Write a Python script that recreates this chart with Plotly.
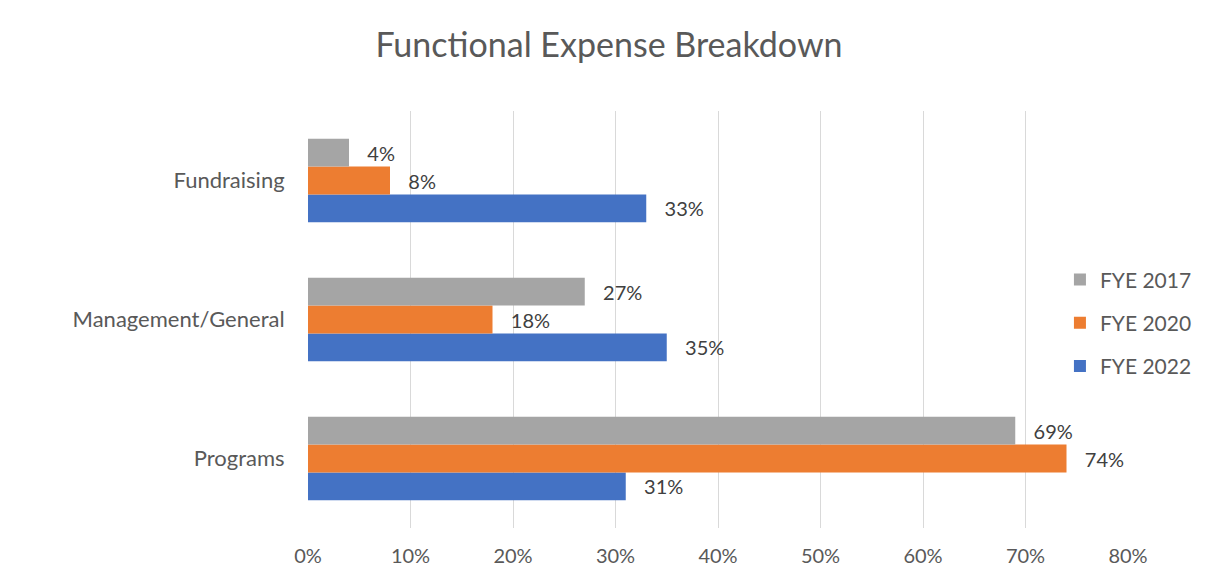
import plotly.graph_objects as go

categories = ["Programs", "Management/General", "Fundraising"]
fye_2022 = [0.31, 0.35, 0.33]
fye_2020 = [0.74, 0.18, 0.08]
fye_2017 = [0.69, 0.27, 0.04]
series_names = ["FYE 2022", "FYE 2020", "FYE 2017"]
series_colors = ["#4472C4", "#ED7D31", "#A5A5A5"]
legend_ranks = [3, 2, 1]
x_ticks = [0, 0.1, 0.2, 0.3, 0.4, 0.5, 0.6, 0.7, 0.8]

FONT = "Lato, 'Open Sans', sans-serif"

fig = go.Figure()
for name, vals, col, rk in zip(series_names, [fye_2022, fye_2020, fye_2017],
                               series_colors, legend_ranks):
    fig.add_trace(go.Bar(
        y=categories, x=vals, name=name, orientation="h", legendgroup=name,
        legendrank=rk,
        marker=dict(color=col, line=dict(width=0)),
        texttemplate="\u00a0\u00a0\u00a0%{x:.0%}", textposition="outside",
        textfont=dict(size=20, color="#404040", family=FONT),
        cliponaxis=False,
    ))

fig.update_layout(
    width=1202, height=567,
    paper_bgcolor="white", plot_bgcolor="white",
    barmode="group", bargap=0.4, bargroupgap=0,
    margin=dict(l=300, r=82, t=103, b=47),
    title=dict(text="Functional Expense Breakdown", x=0.5, xanchor="center",
               y=0.935, yanchor="middle",
               font=dict(size=34, color="#595959", family=FONT)),
    font=dict(family=FONT, color="#595959"),
    legend=dict(x=0.917, xanchor="left", y=0.492, yanchor="middle",
                traceorder="grouped", bgcolor="rgba(0,0,0,0)",
                font=dict(size=21, color="#595959", family=FONT),
                itemwidth=30, tracegroupgap=13),
    xaxis=dict(range=[0, 0.8], tickvals=x_ticks, tickformat=".0%",
               showgrid=True, gridcolor="#D9D9D9", gridwidth=1,
               zeroline=False, showline=False, automargin=False,
               ticks="outside", ticklen=10, tickcolor="rgba(0,0,0,0)",
               tickfont=dict(size=20, color="#595959", family=FONT)),
    yaxis=dict(showgrid=False, zeroline=False, showline=False, automargin=False,
               ticks="outside", ticklen=18, tickcolor="rgba(0,0,0,0)",
               tickfont=dict(size=22, color="#595959", family=FONT)),
)

fig.write_html("out.html")
